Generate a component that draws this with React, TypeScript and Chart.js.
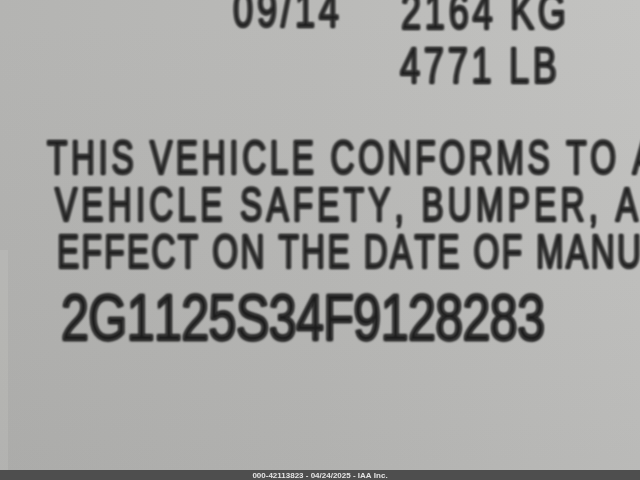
import React, { useEffect, useRef } from "react";
import { Chart, registerables } from "chart.js";

Chart.register(...registerables);

// Text content
const headerTexts = ["09/14", "2164 KG", "4771 LB"];
const bodyLines = [
  "THIS VEHICLE CONFORMS TO A",
  "VEHICLE SAFETY, BUMPER, AN",
  "EFFECT ON THE DATE OF MANU",
];
const bodyPrefixes = ["THIS VEHICLE CONFORMS TO", "VEHICLE SAFETY, BUMPER,", "EFFECT ON THE DATE OF"];
const vinText = "2G1125S34F9128283";
const footerText = "000-42113823 - 04/24/2025 - IAA Inc.";

const FONT_FAMILY = "'Liberation Sans', Arial, sans-serif";

// draws text glyph-by-glyph, glyphs squeezed by sx, gaps sized so that `measureText` spans targetWidth
function drawSpaced(
  ctx: CanvasRenderingContext2D,
  text: string,
  measureText: string,
  x: number,
  baseline: number,
  capHeight: number,
  targetWidth: number,
  sx: number,
  stroke: number
) {
  const size = capHeight / 0.716;
  ctx.font = `${size}px ${FONT_FAMILY}`;
  ctx.textBaseline = "alphabetic";
  ctx.textAlign = "left";
  const widths = Array.from(measureText).map((c) => ctx.measureText(c).width * sx);
  const sum = widths.reduce((a, b) => a + b, 0);
  const n = measureText.length;
  const gap = n > 1 ? (targetWidth - sum) / (n - 1) : 0;
  let cx = x;
  ctx.lineWidth = stroke;
  ctx.lineJoin = "round";
  for (const c of Array.from(text)) {
    const w = ctx.measureText(c).width * sx;
    ctx.save();
    ctx.translate(cx, baseline);
    ctx.scale(sx, 1);
    ctx.fillText(c, 0, 0);
    if (stroke > 0) {
      ctx.lineWidth = stroke / sx;
      ctx.strokeText(c, 0, 0);
    }
    ctx.restore();
    cx += w + gap;
  }
}

const labelPlugin = {
  id: "labelPhoto",
  beforeDraw(chart: any) {
    const ctx: CanvasRenderingContext2D = chart.ctx;
    const W = chart.width;
    const H = chart.height;
    ctx.save();
    const g = ctx.createLinearGradient(0, 0, W, 0);
    g.addColorStop(0, "#b2b2b0");
    g.addColorStop(0.5, "#b8b8b6");
    g.addColorStop(1, "#c1c1bf");
    ctx.fillStyle = g;
    ctx.fillRect(0, 0, W, H);
    const v = ctx.createLinearGradient(0, 0, 0, H);
    v.addColorStop(0, "rgba(255,255,255,0.03)");
    v.addColorStop(1, "rgba(0,0,0,0.04)");
    ctx.fillStyle = v;
    ctx.fillRect(0, 0, W, H);
    ctx.fillStyle = "rgba(210,208,206,0.2)";
    ctx.fillRect(0, 250, 8, H - 250);
    ctx.restore();
  },
  afterDraw(chart: any) {
    const ctx: CanvasRenderingContext2D = chart.ctx;
    const W = chart.width;
    const H = chart.height;
    ctx.save();
    ctx.filter = "blur(0.8px)";
    ctx.fillStyle = "#1c1c1c";
    ctx.strokeStyle = "#1c1c1c";
    // header numbers
    drawSpaced(ctx, headerTexts[0], headerTexts[0], 233, 27, 36, 106, 0.72, 1.4);
    drawSpaced(ctx, headerTexts[1], headerTexts[1], 401, 29, 36, 165, 0.72, 1.4);
    drawSpaced(ctx, headerTexts[2], headerTexts[2], 400, 83, 36, 157, 0.72, 1.4);
    // body lines
    const bodyX = [47, 55, 57];
    const bodyBase = [174, 221, 268];
    const bodyW = [569, 543, 465];
    bodyLines.forEach((line, i) => {
      drawSpaced(ctx, line, bodyPrefixes[i], bodyX[i], bodyBase[i], 35, bodyW[i], 0.68, 1.4);
    });
    // VIN
    drawSpaced(ctx, vinText, vinText, 61, 340, 46, 484, 0.78, 1.8);
    ctx.filter = "none";
    // footer bar
    ctx.fillStyle = "#4e4e4e";
    ctx.fillRect(0, H - 10, W, 10);
    ctx.fillStyle = "#e4e4e4";
    ctx.font = `bold 8px 'Liberation Sans', Arial, sans-serif`;
    ctx.textAlign = "center";
    ctx.textBaseline = "middle";
    ctx.fillText(footerText, W / 2, H - 4.5);
    ctx.restore();
  },
};

export default function App() {
  const canvasRef = useRef<HTMLCanvasElement | null>(null);

  useEffect(() => {
    document.body.style.margin = "0";
    const canvas = canvasRef.current;
    if (!canvas) return;
    const chart = new Chart(canvas, {
      type: "scatter",
      data: { datasets: [] },
      options: {
        animation: false,
        responsive: false,
        maintainAspectRatio: false,
        layout: { padding: 0 },
        plugins: { legend: { display: false }, tooltip: { enabled: false }, title: { display: false } },
        scales: {
          x: { display: false, min: 0, max: 640 },
          y: { display: false, min: 0, max: 480 },
        },
      },
      plugins: [labelPlugin],
    });
    return () => chart.destroy();
  }, []);

  return (
    <div style={{ position: "fixed", left: 0, top: 0, width: 640, height: 480 }}>
      <canvas ref={canvasRef} width={640} height={480} style={{ width: 640, height: 480, display: "block" }} />
    </div>
  );
}
